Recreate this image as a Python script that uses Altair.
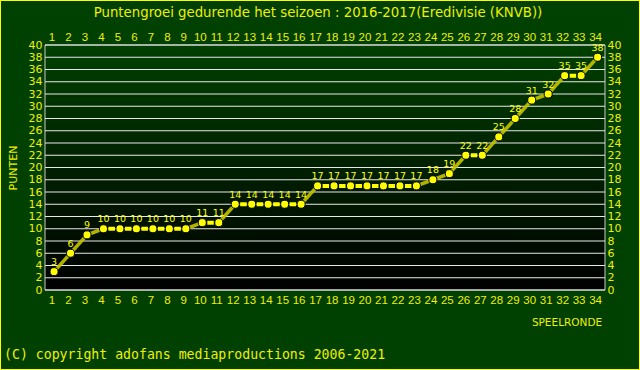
import altair as alt
import pandas as pd

# ---- data ----
rounds = list(range(1, 35))
points = [3, 6, 9, 10, 10, 10, 10, 10, 10, 11, 11, 14, 14, 14, 14, 14, 17,
          17, 17, 17, 17, 17, 17, 18, 19, 22, 22, 25, 28, 31, 32, 35, 35, 38]
y_ticks = list(range(0, 41, 2))
title_text = "Puntengroei gedurende het seizoen : 2016-2017(Eredivisie (KNVB))"
y_title = "PUNTEN"
x_title = "SPEELRONDE"
copyright_text = "(C) copyright adofans mediaproductions 2006-2021"

YEL = "#ffff00"
TXT = "#f0f000"

df = pd.DataFrame({"round": rounds, "pts": points})
seg = pd.DataFrame({
    "x": rounds[:-1], "x2": rounds[1:],
    "y": points[:-1], "y2": points[1:],
})
seg["flat"] = seg["y"] == seg["y2"]
grid_df = pd.DataFrame({"g": y_ticks})

W, H = 560, 245
xscale = alt.Scale(domain=[0.45, 34.45], nice=False, zero=False)
yscale = alt.Scale(domain=[0, 40], nice=False)

x_axis_common = dict(domain=False, ticks=False, labelColor=TXT, labelFont="Liberation Sans",
                     labelFontSize=11.5, title=None, grid=False, labelFlush=False,
                     labelOverlap=False, labelOffset=-2.5)
y_axis_common = dict(domain=False, ticks=False, labelColor=TXT, labelFont="DejaVu Sans",
                     labelFontSize=11, title=None, grid=False, labelFlush=False,
                     labelOverlap=False)

one = alt.Data(values=[{}])

bg = alt.Chart(one).mark_rect(
    fill=alt.Gradient(gradient="linear", x1=0, y1=0, x2=0, y2=1,
                      stops=[alt.GradientStop(offset=0, color="#004000"),
                             alt.GradientStop(offset=1, color="#000000")]),
    stroke="#c8c8c8", strokeWidth=1
).encode(x=alt.value(0), x2=alt.value(W), y=alt.value(0), y2=alt.value(H))

grid = alt.Chart(grid_df).mark_rule(color="#e8e8e8", strokeWidth=1).encode(
    y=alt.Y("g:Q", scale=yscale,
            axis=alt.Axis(orient="left", values=y_ticks, labelPadding=3, **y_axis_common)))

x_bottom = alt.X("x:Q", scale=xscale,
                 axis=alt.Axis(orient="bottom", values=rounds, labelPadding=4, **x_axis_common))

sloped = alt.Chart(seg).transform_filter("!datum.flat").mark_rule(
    color="#c4c400", strokeWidth=3.5, opacity=0.9
).encode(x=x_bottom, x2="x2:Q", y=alt.Y("y:Q", scale=yscale, axis=None), y2="y2:Q")

flat = alt.Chart(seg).transform_filter("datum.flat").mark_rule(
    color=YEL, strokeWidth=4, strokeDash=[0, 5, 6.5, 5], strokeCap="butt"
).encode(
    x=alt.X("x:Q", scale=xscale, axis=None), x2="x2:Q",
    y=alt.Y("y:Q", scale=yscale, axis=None), y2="y2:Q")

x_top = alt.X("round:Q", scale=xscale,
              axis=alt.Axis(orient="top", values=rounds, labelPadding=3, **x_axis_common))
y_right = alt.Y("pts:Q", scale=yscale,
                axis=alt.Axis(orient="right", values=y_ticks, labelPadding=2, **y_axis_common))

dots = alt.Chart(df).mark_point(
    filled=True, size=65, color=YEL, stroke="#000000", strokeWidth=1, opacity=1
).encode(x=x_top, y=y_right)

labels = alt.Chart(df).mark_text(
    color=YEL, fontSize=9.5, font="DejaVu Sans", dy=-9.5, baseline="middle"
).encode(x=alt.X("round:Q", scale=xscale, axis=None),
         y=alt.Y("pts:Q", scale=yscale, axis=None),
         text="pts:Q")

title = alt.Chart(one).mark_text(
    text=title_text, color=TXT, font="DejaVu Sans", fontSize=13.3, align="center",
    baseline="middle"
).encode(x=alt.value(273), y=alt.value(-32))

ytitle = alt.Chart(one).mark_text(
    text=y_title, color=TXT, font="DejaVu Sans", fontSize=11, angle=270,
    align="center", baseline="middle"
).encode(x=alt.value(-31), y=alt.value(123))

xtitle = alt.Chart(one).mark_text(
    text=x_title, color=TXT, font="DejaVu Sans", fontSize=10.5, align="center",
    baseline="middle"
).encode(x=alt.value(522), y=alt.value(278))

copy = alt.Chart(one).mark_text(
    text=copyright_text, color=TXT, font="DejaVu Sans Mono", fontSize=13.2,
    align="left", baseline="middle"
).encode(x=alt.value(-41), y=alt.value(310))

border = alt.Chart(one).mark_rect(
    fill=None, stroke=YEL, strokeWidth=2
).encode(x=alt.value(-45), x2=alt.value(595), y=alt.value(-45), y2=alt.value(325))

chart = alt.layer(
    bg, grid, sloped, flat, dots, labels, title, ytitle, xtitle, copy, border
).resolve_axis(x="independent", y="independent").properties(
    width=W, height=H,
    autosize=alt.AutoSizeParams(type="none"),
    padding={"left": 45, "top": 45, "right": 35, "bottom": 80},
    background="#004000",
).configure_view(stroke=None)

chart.save("out.html", embed_options={"renderer": "svg", "actions": False})
